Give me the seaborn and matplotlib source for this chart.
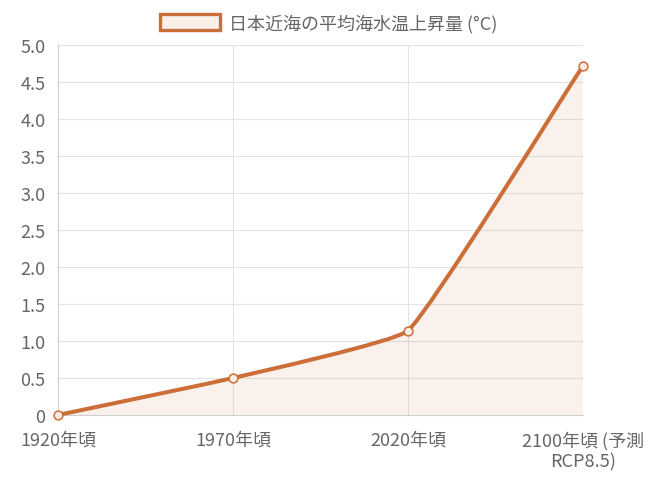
import numpy as np
import seaborn as sns
import matplotlib.pyplot as plt
from matplotlib.path import Path
from matplotlib.patches import PathPatch, Patch

# data
periods = ["1920年頃", "1970年頃", "2020年頃", "2100年頃 (予測\nRCP8.5)"]
temp_rise = [0.0, 0.5, 1.14, 4.72]
y_ticks = [0, 0.5, 1.0, 1.5, 2.0, 2.5, 3.0, 3.5, 4.0, 4.5, 5.0]
y_labels = ["0", "0.5", "1.0", "1.5", "2.0", "2.5", "3.0", "3.5", "4.0", "4.5", "5.0"]
series_name = "日本近海の平均海水温上昇量 (°C)"

line_color = "#CC6E38"
fill_color = (204 / 255, 110 / 255, 56 / 255, 0.09)
text_color = "#666666"
grid_color = "#e3e3e3"

sns.set_theme(style="white")
plt.rcParams['font.family'] = ['Noto Sans CJK JP', 'DejaVu Sans']

fig = plt.figure(figsize=(6.51, 4.85), dpi=100)
ax = fig.add_axes([58 / 651, 1 - 416 / 485, 525 / 651, 370 / 485])

xs = np.arange(len(periods))
ax.set_xlim(0, len(periods) - 1)
ax.set_ylim(0, 5)

# smooth curve like chart.js (bezier with small tension), built in pixel space
pix = ax.transData.transform(np.column_stack([xs, temp_rise]))
tension = 0.1
cps = []
for i in range(len(pix)):
    prev = pix[max(i - 1, 0)]
    cur = pix[i]
    nxt = pix[min(i + 1, len(pix) - 1)]
    d01 = np.hypot(*(cur - prev))
    d12 = np.hypot(*(nxt - cur))
    tot = d01 + d12 if d01 + d12 > 0 else 1
    fa = tension * d01 / tot
    fb = tension * d12 / tot
    cps.append((cur - fa * (nxt - prev), cur + fb * (nxt - prev)))

inv = ax.transData.inverted()
verts = [pix[0]]
codes = [Path.MOVETO]
for i in range(len(pix) - 1):
    verts += [cps[i][1], cps[i + 1][0], pix[i + 1]]
    codes += [Path.CURVE4] * 3
verts = inv.transform(np.array(verts))

# filled area down to zero
fill_verts = np.vstack([verts, [[xs[-1], 0], [xs[0], 0], [xs[0], 0]]])
fill_codes = codes + [Path.LINETO, Path.LINETO, Path.CLOSEPOLY]
ax.add_patch(PathPatch(Path(fill_verts, fill_codes), facecolor=fill_color,
                       edgecolor="none", zorder=1))
ax.add_patch(PathPatch(Path(verts, codes), facecolor="none", edgecolor=line_color,
                       linewidth=2.9, capstyle="round", joinstyle="round",
                       zorder=3, clip_on=False))

sns.scatterplot(x=xs, y=temp_rise, ax=ax, s=40, marker="o",
                facecolor=(250 / 255, 236 / 255, 228 / 255), edgecolor=line_color,
                linewidth=1.1, zorder=4, clip_on=False)

# axes styling
ax.set_xticks(xs)
ax.set_xticklabels(periods, multialignment="center")
ax.set_yticks(y_ticks)
ax.set_yticklabels(y_labels)
ax.grid(True, color=grid_color, linewidth=0.8)
ax.set_axisbelow(True)
for side in ["top", "right"]:
    ax.spines[side].set_visible(False)
for side in ["left", "bottom"]:
    ax.spines[side].set_color("#d0d0d0")
    ax.spines[side].set_linewidth(0.8)
ax.tick_params(axis="both", colors=grid_color, labelcolor=text_color,
               labelsize=13, length=7, width=0.8, pad=2)
ax.tick_params(axis="x", pad=4)

handle = Patch(facecolor=(252 / 255, 240 / 255, 234 / 255), edgecolor=line_color,
               linewidth=2.4)
fig.legend(handles=[handle], labels=[series_name], loc="upper center",
           bbox_to_anchor=(0.505, 1.0), frameon=False, fontsize=13,
           handlelength=3.3, handleheight=1.0, handletextpad=0.5,
           labelcolor=text_color, borderaxespad=0.4)

fig.savefig("out.png", dpi=100)
